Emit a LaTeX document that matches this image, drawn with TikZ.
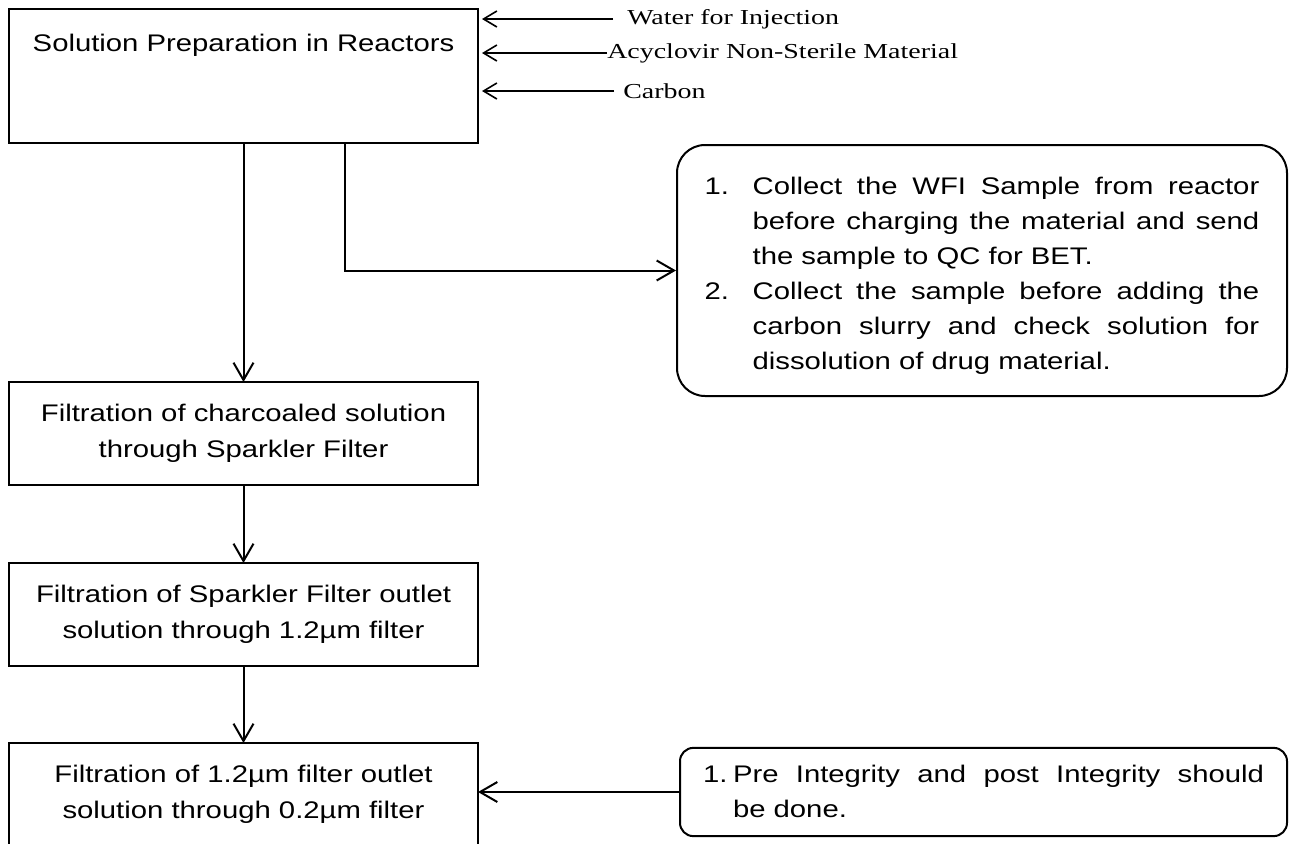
\documentclass[tikz,border=0pt]{standalone}
\usepackage{fontspec}
\setmainfont{Liberation Sans}[FakeStretch=1.22]
\newfontfamily\timesfont{Liberation Serif}[FakeStretch=1.31]
\usetikzlibrary{arrows.meta}
\usetikzlibrary{positioning}
\newcommand\notelabel[1]{#1\hfil}
\newenvironment{notelist}[1]{\begin{list}{}{\setlength\leftmargin{#1}\setlength\labelwidth{#1}\setlength\labelsep{0pt}\setlength\itemsep{0pt}\setlength\topsep{0pt}\setlength\parsep{0pt}\setlength\partopsep{0pt}\let\makelabel\notelabel}}{\end{list}}

\begin{document}
\begin{tikzpicture}[x=0.75pt,y=-0.75pt]
\tikzset{stepbox/.style={rectangle,draw,line width=1.5pt,outer sep=0pt,minimum width=351.75pt,minimum height=77.25pt,align=center,inner sep=0pt,font=\fontsize{18}{27}\selectfont},
notebox/.style={rectangle,draw,line width=1.5pt,align=justify,font=\fontsize{18}{26.25}\selectfont,execute at begin node={\tolerance=9999\hyphenpenalty=10000}},
flow/.style={line width=1.5pt,-{Straight Barb[length=13pt,width=15pt]}},
feed/.style={line width=1.2pt,shorten >=3pt,-{Straight Barb[length=10pt,width=12pt]}},
feedtext/.style={anchor=west,inner sep=0pt,font=\timesfont\fontsize{16}{18}\selectfont}}
\clip (0,0) rectangle (1293,843);
% main line
\node[stepbox,minimum height=100.5pt](prep) at (243.5,76){};
\node[inner sep=0pt,font=\fontsize{18}{27}\selectfont](preptitle)[below=19pt of prep.north]{Solution Preparation in Reactors};
\node[stepbox](charcoal)[below=179.25pt of prep]{Filtration of charcoaled solution\\through Sparkler Filter};
\node[stepbox](sparkler)[below=58.5pt of charcoal]{Filtration of Sparkler Filter outlet\\solution through 1.2µm filter};
\node[stepbox](finefilter)[below=57.75pt of sparkler]{Filtration of 1.2µm filter outlet\\solution through 0.2µm filter};
\draw[flow](prep.south) -- (charcoal);
\draw[flow](charcoal) -- (sparkler);
\draw[flow](sparkler) -- (finefilter);
% inputs
\node[feedtext,inner xsep=10.5pt](water) at (613,19){Water for Injection};
\node[feedtext](acv) at (607,53){Acyclovir Non-Sterile Material};
\node[feedtext,inner xsep=6.75pt](carbon) at (614,91){Carbon};
\draw[feed](water.west) -- (water.west -| prep.east);
\draw[feed](acv.west) -- (acv.west -| prep.east);
\draw[feed](carbon.west) -- (carbon.west -| prep.east);
% notes
\node[notebox,rounded corners=21pt,text width=416pt,inner xsep=20.75pt,minimum height=188.25pt](wfinote) at (982,270.5){%
\begin{notelist}{36pt}
\item[1.] Collect the WFI Sample from reactor\linebreak before charging the material and send\linebreak the sample to QC for BET.
\item[2.] Collect the sample before adding the\linebreak carbon slurry and check solution for\linebreak dissolution of drug material.
\end{notelist}\par\kern6pt};
\node[notebox,rounded corners=10pt,text width=420.75pt,inner xsep=17.25pt,inner ysep=0pt,minimum height=66pt](integrity) at (983.5,792){%
\begin{notelist}{22.5pt}
\item[1.] Pre Integrity and post Integrity should\linebreak be done.
\end{notelist}\par\kern13.5pt};
\draw[flow]([xshift=76pt]prep.south) |- (wfinote.west);
\draw[flow](integrity.west) -- (integrity.west -| finefilter.east);
\end{tikzpicture}
\end{document}
